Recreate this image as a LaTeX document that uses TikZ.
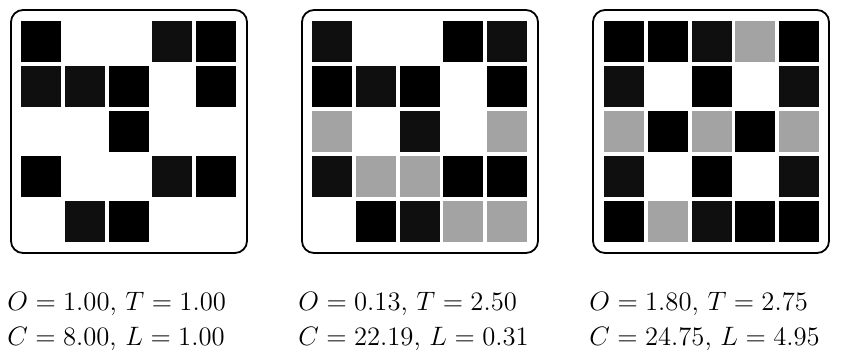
\documentclass[tikz,border=0pt]{standalone}
\begin{document}
\begin{tikzpicture}[x=1pt,y=-1pt,
  frame/.style={draw=black,line width=1.8pt,rounded corners=12pt},
  cellB/.style={fill=black},
  cellD/.style={fill=black!94},
  cellG/.style={fill=black!36},
  cellW/.style={},
  lab/.style={anchor=base west,inner sep=0pt,scale=2.22,font=\fontsize{12}{14}\selectfont}]
\useasboundingbox (0,0) rectangle (846,354);
\newcommand{\mypanel}[3]{%
  \draw[frame] (#1+11,10) rectangle (#1+247,253);
  \foreach \r [count=\i] in {#3} {
    \foreach \c [count=\j] in \r {
      \path[cell\c] ({#1+#2+21+(\j-1)*43.8},{21+(\i-1)*45}) rectangle ++(40,41);
    }
  }
}
\mypanel{0}{0}{{B,W,W,D,B},{D,D,B,W,B},{W,W,B,W,W},{B,W,W,D,B},{W,D,B,W,W}}
\mypanel{291}{0}{{D,W,W,B,D},{B,D,B,W,B},{G,W,D,W,G},{D,G,G,B,B},{W,B,D,G,G}}
\mypanel{582}{1}{{B,B,D,G,B},{D,W,B,W,D},{G,B,G,B,G},{D,W,B,W,D},{B,G,D,B,B}}
\node[lab] (a1) at (7,310) {$O = 1.00$, $T = 1.00$};
\node[lab] (a2) at (7,345) {$C = 8.00$, $L = 1.00$};
\node[lab] (b1) at (298,310) {$O = 0.13$, $T = 2.50$};
\node[lab] (b2) at (298,345) {$C = 22.19$, $L = 0.31$};
\node[lab] (c1) at (589,310) {$O = 1.80$, $T = 2.75$};
\node[lab] (c2) at (589,345) {$C = 24.75$, $L = 4.95$};
\end{tikzpicture}
\end{document}
